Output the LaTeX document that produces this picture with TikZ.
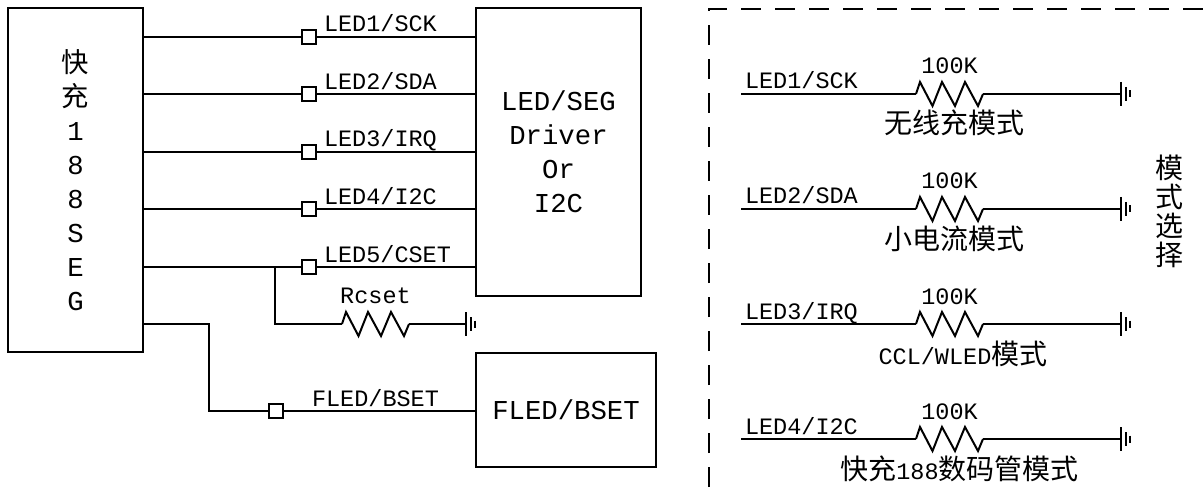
\documentclass[tikz,border=0pt]{standalone}
\usepackage{fontspec}
\setmainfont{Liberation Mono}
\newfontfamily\cjk{Noto Sans CJK SC}
\usetikzlibrary{positioning}

\begin{document}
\begin{tikzpicture}
[
x=1pt, y=-1pt, line width=2pt,
box-a/.style={rectangle, draw, inner sep=0pt, outer sep=0pt, align=center, font=\fontsize{27.3}{34}\selectfont},
pin-a/.style={rectangle, draw, inner sep=0pt, outer sep=0pt, minimum size=14pt},
text-a/.style={inner sep=0pt, outer sep=0pt, text height=16pt, text depth=5pt, font=\fontsize{23.5}{27}\selectfont},
text-b/.style={inner sep=0pt, outer sep=0pt, text height=24pt, text depth=4pt, font=\fontsize{23.5}{27}\selectfont},
text-c/.style={inner sep=0pt, outer sep=0pt, align=center, font=\fontsize{28}{29}\selectfont\cjk},
res-a/.pic={
  \coordinate (-in) at (0,0);
  \coordinate (-mid) at (33.5,0);
  \coordinate (-out) at (67,0);
  \draw (-in) -- (4,-12) -- (16.5,12) -- (26,-12) -- (39,12) -- (49,-12) -- (62,12) -- (-out);
},
gnd-a/.pic={
  \coordinate (-in) at (0,0);
  \draw (0,-12) -- (0,12);
  \draw (4.5,-7) -- (4.5,7);
  \draw (8.5,-3.5) -- (8.5,3.5);
}
]
\useasboundingbox (0,0) rectangle (1203,492);

\node (chip)       [box-a, minimum width=135pt, minimum height=344pt] at (75.5,180)  {{\cjk 快}\\{\cjk 充}\\1\\8\\8\\S\\E\\G};
\node (drv)        [box-a, minimum width=165pt, minimum height=288pt] at (558.5,152) {LED/SEG\\Driver\\Or\\I2C};
\node (fled)       [box-a, minimum width=180pt, minimum height=114pt] at (566,410)   {FLED/BSET};

\node (pin-1)      [pin-a] at (309,37) {};
\node (pin-2)      [pin-a, below = 43.5pt of pin-1] {};
\node (pin-3)      [pin-a, below = 43.5pt of pin-2] {};
\node (pin-4)      [pin-a, below = 43.5pt of pin-3] {};
\node (pin-5)      [pin-a, below = 43.5pt of pin-4] {};
\node (pin-6)      [pin-a] at (276,411) {};

\node (lab-1)      [text-a, above right = 0pt and 8pt of pin-1.east]  {LED1/SCK};
\node (lab-2)      [text-a, above right = 0pt and 8pt of pin-2.east]  {LED2/SDA};
\node (lab-3)      [text-a, above right = 0pt and 8pt of pin-3.east]  {LED3/IRQ};
\node (lab-4)      [text-a, above right = 0pt and 8pt of pin-4.east]  {LED4/I2C};
\node (lab-5)      [text-a, above right = 0pt and 8pt of pin-5.east]  {LED5/CSET};
\node (lab-6)      [text-a, above right = 0pt and 29pt of pin-6.east] {FLED/BSET};

\coordinate (tap)  at (275,267);
\coordinate (bend) at (209,411);
\pic (r-0)         at (342,324) {res-a};
\pic (g-0)         at (466,324) {gnd-a};
\node (lab-r)      [text-a, above = 16pt of r-0-mid] {Rcset};

\draw (chip.east |- pin-1) -- (pin-1.west);
\draw (chip.east |- pin-2) -- (pin-2.west);
\draw (chip.east |- pin-3) -- (pin-3.west);
\draw (chip.east |- pin-4) -- (pin-4.west);
\draw (chip.east |- pin-5) -- (pin-5.west);
\draw (pin-1.east) -- (drv.west |- pin-1);
\draw (pin-2.east) -- (drv.west |- pin-2);
\draw (pin-3.east) -- (drv.west |- pin-3);
\draw (pin-4.east) -- (drv.west |- pin-4);
\draw (pin-5.east) -- (drv.west |- pin-5);
\draw (tap |- pin-5) |- (r-0-in);
\draw (r-0-out) -- (g-0-in);
\draw (chip.east |- r-0-in) -| (bend) -- (pin-6.west);
\draw (pin-6.east) -- (fled.west |- pin-6);

\draw [dash pattern=on 20pt off 14pt] (709,487) -- (709,9) -- (1203,9);

\coordinate (in-1) at (741,94);
\coordinate (in-2) at (741,209);
\coordinate (in-3) at (741,324);
\coordinate (in-4) at (741,439);
\pic (r-1)         at (916,94)   {res-a};
\pic (r-2)         at (916,209)  {res-a};
\pic (r-3)         at (916,324)  {res-a};
\pic (r-4)         at (916,439)  {res-a};
\pic (g-1)         at (1121,94)  {gnd-a};
\pic (g-2)         at (1121,209) {gnd-a};
\pic (g-3)         at (1121,324) {gnd-a};
\pic (g-4)         at (1121,439) {gnd-a};

\draw (in-1) -- (r-1-in);
\draw (in-2) -- (r-2-in);
\draw (in-3) -- (r-3-in);
\draw (in-4) -- (r-4-in);
\draw (r-1-out) -- (g-1-in);
\draw (r-2-out) -- (g-2-in);
\draw (r-3-out) -- (g-3-in);
\draw (r-4-out) -- (g-4-in);

\node (sel-1)      [text-a, above right = 0pt and 4pt of in-1] {LED1/SCK};
\node (sel-2)      [text-a, above right = 0pt and 4pt of in-2] {LED2/SDA};
\node (sel-3)      [text-a, above right = 0pt and 4pt of in-3] {LED3/IRQ};
\node (sel-4)      [text-a, above right = 0pt and 4pt of in-4] {LED4/I2C};
\node (val-1)      [text-a, above = 15pt of r-1-mid] {100K};
\node (val-2)      [text-a, above = 15pt of r-2-mid] {100K};
\node (val-3)      [text-a, above = 15pt of r-3-mid] {100K};
\node (val-4)      [text-a, above = 15pt of r-4-mid] {100K};
\node (mode-1)     [text-b, below = 16pt of r-1-mid, xshift=5pt]    {\fontsize{28}{29}\selectfont\cjk 无线充模式};
\node (mode-2)     [text-b, below = 16pt of r-2-mid, xshift=5pt]    {\fontsize{28}{29}\selectfont\cjk 小电流模式};
\node (mode-3)     [text-b, below = 16pt of r-3-mid, xshift=13.5pt] {CCL/WLED{\fontsize{28}{29}\selectfont\cjk 模式}};
\node (mode-4)     [text-b, below = 16pt of r-4-mid, xshift=10pt]   {{\fontsize{28}{29}\selectfont\cjk 快充}188{\fontsize{28}{29}\selectfont\cjk 数码管模式}};
\node (sel-t)      [text-c] at (1169,211) {模\\式\\选\\择};
\end{tikzpicture}
\end{document}
